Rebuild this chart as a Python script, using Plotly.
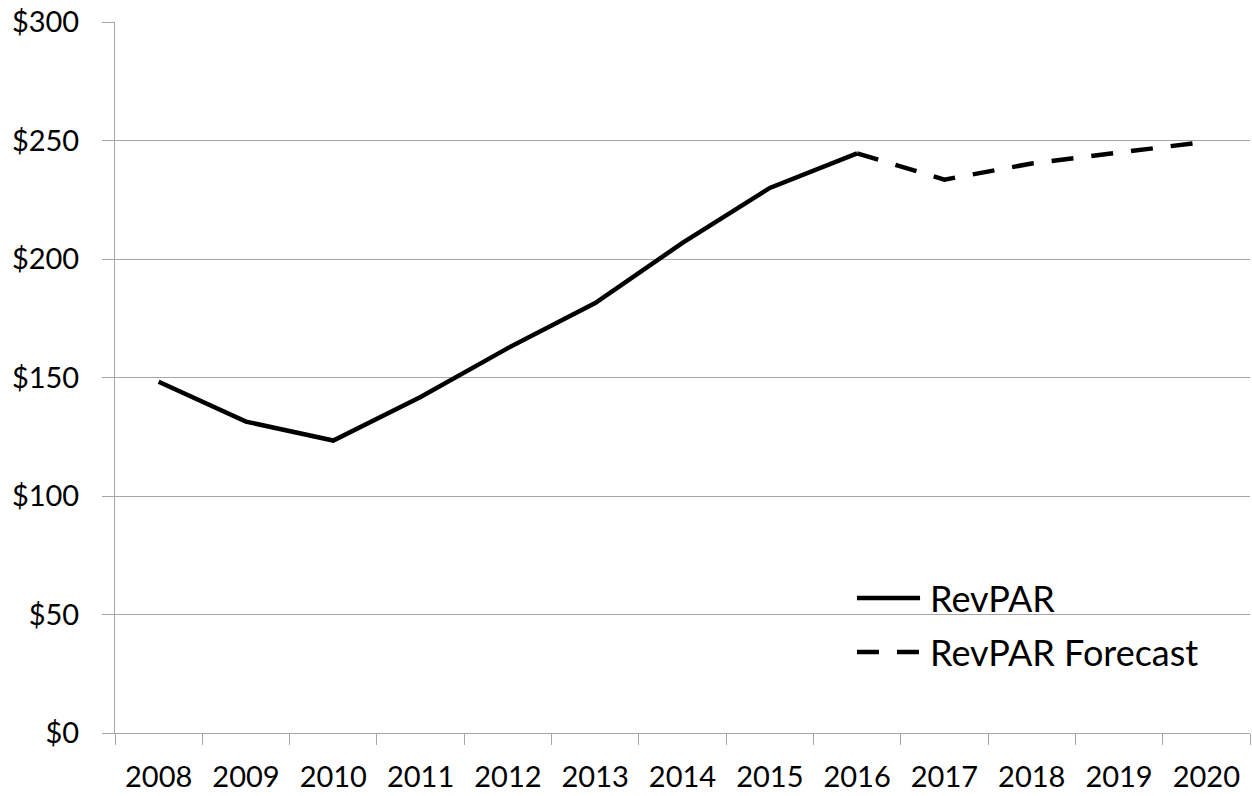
import plotly.graph_objects as go

years = ["2008", "2009", "2010", "2011", "2012", "2013", "2014",
         "2015", "2016", "2017", "2018", "2019", "2020"]
revpar = [148.2, 131.4, 123.4, 141.8, 162.4, 181.4, 206.8,
          230.0, 244.6, None, None, None, None]
forecast = [None, None, None, None, None, None, None,
            None, 244.6, 233.5, 240.3, 245.0, 249.5]
y_ticks = [0, 50, 100, 150, 200, 250, 300]
y_tick_text = ["$0", "$50", "$100", "$150", "$200", "$250", "$300"]
series_names = ["RevPAR", "RevPAR Forecast"]

FONT = "Lato, Calibri, Carlito, sans-serif"
GRID = "#A6A6A6"
DASH = "22px,18px"

fig = go.Figure()
fig.add_trace(go.Scatter(x=years, y=revpar, mode="lines", name=series_names[0],
                         line=dict(color="black", width=4.5), showlegend=False))
fig.add_trace(go.Scatter(x=years, y=forecast, mode="lines", name=series_names[1],
                         line=dict(color="black", width=4.5, dash=DASH),
                         showlegend=False))

# custom legend (box hiding the gridline, sample lines, labels)
shapes = [
    dict(type="rect", xref="paper", yref="paper", x0=0.604, x1=1.0,
         y0=0.09, y1=0.215, fillcolor="white", line=dict(width=0),
         layer="between"),
    dict(type="line", xref="paper", yref="paper", x0=0.6537, x1=0.7093,
         y0=0.1899, y1=0.1899, line=dict(color="black", width=4.5)),
    dict(type="line", xref="paper", yref="paper", x0=0.6537, x1=0.7093,
         y0=0.1139, y1=0.1139, line=dict(color="black", width=4.5, dash=DASH)),
]
annotations = [
    dict(xref="paper", yref="paper", x=0.7163, y=0.1899, text=series_names[0],
         showarrow=False, xanchor="left", yanchor="middle",
         font=dict(size=36, family=FONT, color="black")),
    dict(xref="paper", yref="paper", x=0.7163, y=0.1139, text=series_names[1],
         showarrow=False, xanchor="left", yanchor="middle",
         font=dict(size=36, family=FONT, color="black")),
]

fig.update_layout(
    width=1252, height=796,
    margin=dict(l=115, r=2, t=22, b=63),
    plot_bgcolor="white", paper_bgcolor="white",
    font=dict(family=FONT, size=29, color="black"),
    showlegend=False,
    shapes=shapes, annotations=annotations,
    xaxis=dict(type="category", categoryorder="array", categoryarray=years,
               range=[-0.5, len(years) - 0.5],
               showline=True, linecolor=GRID, linewidth=1,
               ticks="outside", tickson="boundaries", ticklen=11,
               tickcolor=GRID, showgrid=False, zeroline=False,
               tickfont=dict(size=29, family=FONT),
               ticklabelstandoff=18, automargin=False),
    yaxis=dict(range=[0, 300], tickvals=y_ticks, ticktext=y_tick_text,
               showline=True, linecolor=GRID, linewidth=1,
               ticks="outside", ticklen=12, tickcolor=GRID,
               showgrid=True, gridcolor=GRID, gridwidth=1,
               zeroline=False, tickfont=dict(size=29, family=FONT),
               ticklabelstandoff=17, automargin=False,
               ticklabeloverflow="allow"),
)

fig.write_html("out.html",
               config={"displayModeBar": False},
               post_script="document.body.style.margin='0';"
                           "document.body.style.overflow='hidden';")
